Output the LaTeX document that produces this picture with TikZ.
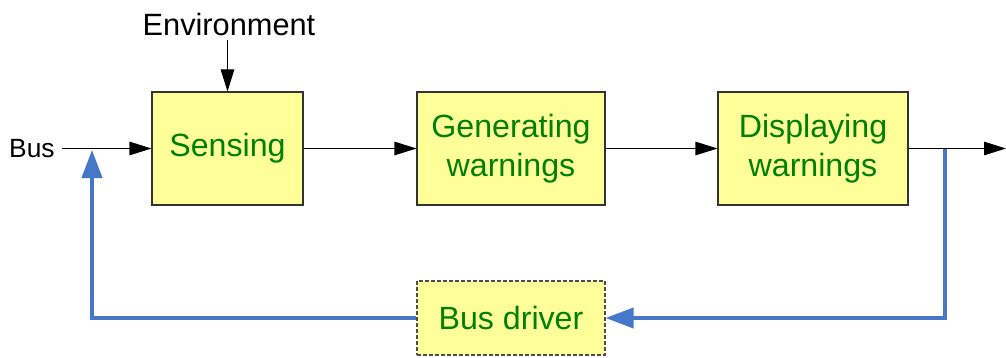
\documentclass[tikz,border=0pt]{standalone}
\usepackage{fontspec}
\setmainfont{Liberation Sans}
\usepackage{tikz}
\usetikzlibrary{arrows.meta,positioning,calc}
\definecolor{boxfill}{HTML}{FFFF99}
\definecolor{boxtext}{HTML}{008000}
\definecolor{loopblue}{HTML}{4677C8}
\tikzstyle{block} = [rectangle, minimum width=3.76cm, minimum height=2.26cm, align=center, draw=black!80, line width=0.6pt, fill=boxfill, text=boxtext, font=\fontsize{18.3}{22.5}\selectfont]
\tikzstyle{arrow} = [line width=0.6pt, -{Triangle[length=0.44cm, width=0.27cm]}]
\tikzstyle{feedback} = [line width=2.2pt, draw=loopblue, -{Triangle[length=0.56cm, width=0.4cm]}]

\begin{document}
\begin{tikzpicture}
                \useasboundingbox (0, 0) rectangle (20.12, -7.16);
                \node[block, minimum width=3.02cm] (sense) at (4.55, -2.97) {Sensing};
                \node[block] (gen) at (10.22, -2.97) {Generating\\warnings};
                \node[block, minimum width=3.8cm] (disp) at (16.26, -2.97) {Displaying\\warnings};
                \node[block, minimum height=1.48cm, draw=black!70, dash pattern=on 0.07cm off 0.05cm] (driver) at (10.22, -6.36) {Bus driver};
                
                \node[anchor=east, inner sep=0pt, font=\fontsize{15}{18}\selectfont] (bus) at (1.1, -2.97) {Bus};
                \node[anchor=south, inner sep=0pt, font=\fontsize{17.5}{21}\selectfont] (env) at (4.58, -0.73) {Environment};
                \coordinate (out) at (20.12, -2.97);
                \coordinate (tap) at (18.9, -2.97);
                \coordinate (fb) at (1.84, -3.0);
                
                \draw[arrow] ([xshift=0.14cm]bus.east) -- (sense);
                \draw[arrow] ([yshift=-0.07cm]env.south -| sense.north) -- (sense.north);
                \draw[arrow] (sense) -- (gen);
                \draw[arrow] (gen) -- (disp);
                \draw[arrow] (disp) -- (out);
                \draw[feedback] (tap) |- (driver.east);
                \draw[feedback] (driver.west) -| (fb);
            \end{tikzpicture}
\end{document}
